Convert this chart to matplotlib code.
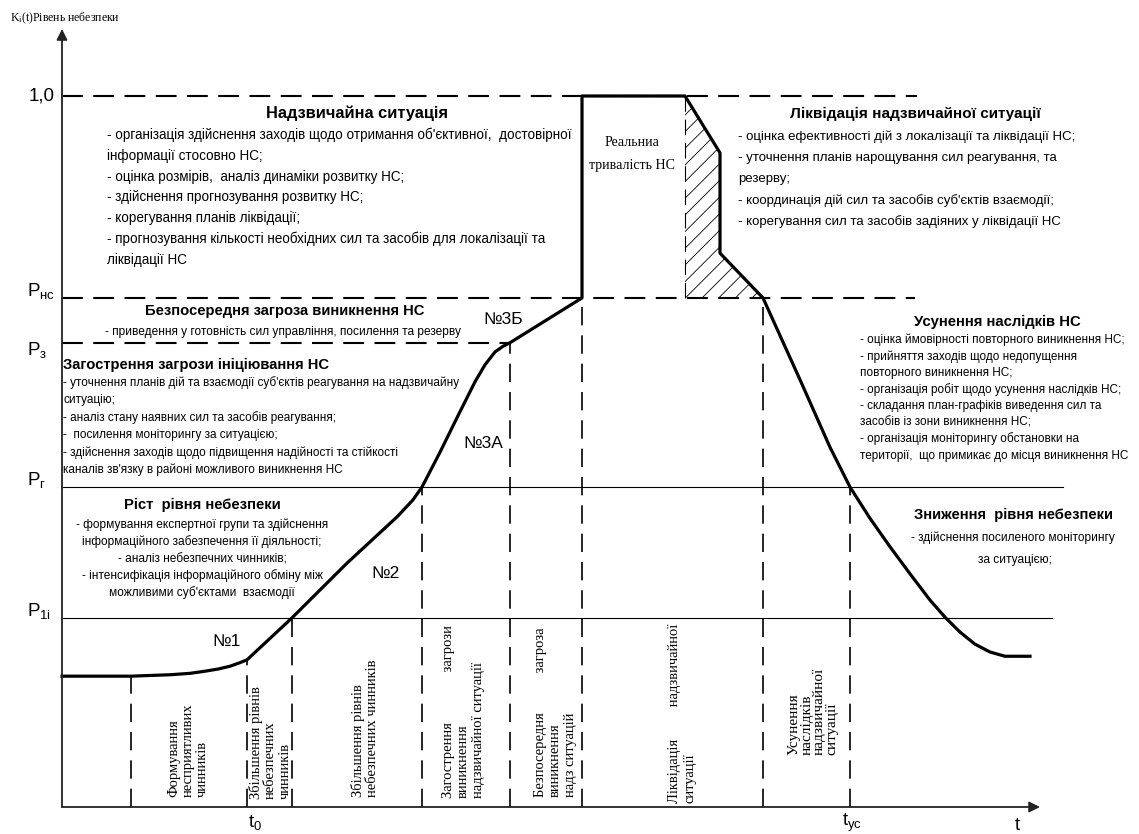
import matplotlib
matplotlib.use("Agg")
import matplotlib.pyplot as plt

W, H = 1139, 834

# danger level curve K(t): time in arbitrary units, level as a share of 1,0
t_curve = [0.00, 0.69, 0.88, 1.08, 1.28, 1.43, 1.56, 1.68, 1.78, 1.85,
           2.30, 2.85, 3.35, 3.51, 3.60, 3.78, 3.98, 4.13, 4.23, 4.33,
           4.41, 4.48, 5.20, 5.20, 6.23, 6.58, 6.58, 7.01, 7.38, 7.68,
           7.88, 8.08, 8.28, 8.48, 8.68, 8.83, 8.98, 9.13, 9.28, 9.43, 9.68]
k_curve = [0.184, 0.184, 0.185, 0.186, 0.188, 0.191, 0.194, 0.198, 0.203,
           0.207, 0.266, 0.343, 0.408, 0.432, 0.450, 0.499, 0.556, 0.598,
           0.622, 0.640, 0.648, 0.653, 0.716, 1.000, 1.000, 0.920, 0.779,
           0.716, 0.601, 0.506, 0.450, 0.406, 0.366, 0.328, 0.291, 0.267,
           0.246, 0.229, 0.218, 0.212, 0.212]

# threshold levels
P_1i = 0.266
P_r = 0.450
P_3 = 0.653
P_hc = 0.716
K_max = 1.0

# stage boundaries (dashed verticals) and the level where each one starts
stage_t = [0.69, 1.85, 2.30, 3.60, 4.48, 5.20, 7.01, 7.88]
stage_top = [0.184, 0.207, 0.266, 0.450, 0.653, 0.716, 0.716, 0.450]

# hatched part of the real duration of the emergency
hatch_t = [6.23, 6.58, 6.58, 7.01, 6.23]
hatch_k = [1.000, 0.920, 0.779, 0.716, 0.716]


def px(x, y):
    # picture pixel -> data units
    return (x - 62) / 100.0, (807 - y) / 711.0


SANS = ["Liberation Sans", "DejaVu Sans"]
SERIF = ["Liberation Serif", "DejaVu Serif"]

plt.rcParams["hatch.linewidth"] = 0.6

fig = plt.figure(figsize=(W / 100, H / 100), dpi=100)
ax = fig.add_axes([0, 0, 1, 1])
x0, y0 = px(0, H)
x1, y1 = px(W, 0)
ax.set_xlim(x0, x1)
ax.set_ylim(y0, y1)
ax.axis("off")

# axes with arrows
ax.annotate("", xy=px(62, 29), xytext=px(62, 807),
            arrowprops=dict(arrowstyle="-|>", lw=1.3, color="#222222",
                            mutation_scale=16, shrinkA=0, shrinkB=0))
ax.annotate("", xy=px(1040, 807), xytext=px(62, 807),
            arrowprops=dict(arrowstyle="-|>", lw=1.3, color="#222222",
                            mutation_scale=16, shrinkA=0, shrinkB=0))

# level lines
dash_kw = dict(color="black", lw=1.5, dashes=(10, 5))
ax.plot([0, px(917, 0)[0]], [K_max, K_max], **dash_kw)
ax.plot([0, px(915, 0)[0]], [P_hc, P_hc], **dash_kw)
ax.plot([0, 4.48], [P_3, P_3], **dash_kw)
ax.plot([0, px(1063, 0)[0]], [P_r, P_r], color="black", lw=0.8)
ax.plot([0, px(1052, 0)[0]], [P_1i, P_1i], color="black", lw=0.8)

# stage borders
for t, top in zip(stage_t, stage_top):
    ax.plot([t, t], [0, top], color="black", lw=1.2, dashes=(11, 6))
ax.plot([6.23, 6.23], [P_hc, K_max], color="black", lw=0.8, dashes=(14, 7))

ax.fill(hatch_t, hatch_k, facecolor="none", edgecolor="black", lw=0,
        hatch="//")

ax.plot(t_curve, k_curve, color="black", lw=2.3, solid_joinstyle="round")


def txt(x, y, s, size=10, ha="left", va="center", bold=False, family=SANS,
        **kw):
    ax.text(*px(x, y), s, fontsize=size, ha=ha, va=va, family=family,
            fontweight="bold" if bold else "normal", **kw)


# axis labels
txt(10, 18, r"$\mathregular{K_i}$(t)Рівень небезпеки", size=8.5, family=SERIF)
txt(55, 96, "1,0", size=13.5, ha="right")
txt(27, 291, r"$\mathregular{P_{нс}}$", size=13.5)
txt(27, 350, r"$\mathregular{P_{з}}$", size=13.5)
txt(27, 480, r"$\mathregular{P_{г}}$", size=13.5)
txt(27, 611, r"$\mathregular{P_{1i}}$", size=13.5)
txt(255, 823, r"$\mathregular{t_0}$", size=13.5, ha="center")
txt(852, 823, r"$\mathregular{t_{ус}}$", size=13.5, ha="center")
txt(1017, 825, "t", size=13.5, ha="center")

txt(227, 642, "№1", size=12.5, ha="center")
txt(385, 574, "№2", size=12.5, ha="center")
txt(483, 443, "№3А", size=12.5, ha="center")
txt(503, 320, "№3Б", size=12.5, ha="center")

txt(632, 142, "Реальниа", size=10, ha="center", family=SERIF)
txt(632, 166, "тривалість НС", size=10, ha="center", family=SERIF)

# text blocks
txt(357, 113, "Надзвичайна ситуація", size=11.8, ha="center", bold=True)
lines = ["- організація здійснення заходів щодо отримання об'єктивної,  достовірної",
         "інформації стосовно НС;",
         "- оцінка розмірів,  аналіз динаміки розвитку НС;",
         "- здійснення прогнозування розвитку НС;",
         "- корегування планів ліквідації;",
         "- прогнозування кількості необхідних сил та засобів для локалізації та",
         "ліквідації НС"]
for i, s in enumerate(lines):
    txt(107, 135 + 20.8 * i, s, size=9.75)

txt(915, 114, "Ліквідація надзвичайної ситуації", size=11, ha="center",
    bold=True)
lines = ["- оцінка ефективності дій з локалізації та ліквідації НС;",
         "- уточнення планів нарощування сил реагування, та",
         "резерву;",
         "- координація дій сил та засобів суб'єктів взаємодії;",
         "- корегування сил та засобів задіяних у ліквідації НС"]
for i, s in enumerate(lines):
    txt(738, 137 + 21.2 * i, s, size=9.5)

txt(285, 311, "Безпосередня загроза виникнення НС", size=10.6, ha="center",
    bold=True)
txt(283, 332, "- приведення у готовність сил управління, посилення та резерву",
    size=8.6, ha="center")

txt(63, 365, "Загострення загрози ініціювання НС", size=10.6, bold=True)
lines = ["- уточнення планів дій та взаємодії суб'єктів реагування на надзвичайну",
         "ситуацію;",
         "- аналіз стану наявних сил та засобів реагування;",
         "-  посилення моніторингу за ситуацією;",
         "- здійснення заходів щодо підвищення надійності та стійкості",
         "каналів зв'язку в районі можливого виникнення НС"]
for i, s in enumerate(lines):
    txt(63, 383 + 17.4 * i, s, size=8.5)

txt(202, 505, "Ріст  рівня небезпеки", size=10.7, ha="center", bold=True)
lines = ["- формування експертної групи та здійснення",
         "інформаційного забезпечення її діяльності;",
         "- аналіз небезпечних чинників;",
         "- інтенсифікація інформаційного обміну між",
         "можливими суб'єктами  взаємодії"]
for i, s in enumerate(lines):
    txt(202, 525 + 17 * i, s, size=8.6, ha="center")

txt(997, 322, "Усунення наслідків НС", size=10.7, ha="center", bold=True)
lines = ["- оцінка ймовірності повторного виникнення НС;",
         "- прийняття заходів щодо недопущення",
         "повторного виникнення НС;",
         "- організація робіт щодо усунення наслідків НС;",
         "- складання план-графіків виведення сил та",
         "засобів із зони виникнення НС;",
         "- організація моніторингу обстановки на",
         "території,  що примикає до місця виникнення НС"]
for i, s in enumerate(lines):
    txt(860, 340 + 16.5 * i, s, size=8.5)

txt(1013, 515, "Зниження  рівня небезпеки", size=10.6, ha="center", bold=True)
txt(1013, 538, "- здійснення посиленого моніторингу", size=8.6, ha="center")
txt(1015, 560, "за ситуацією;", size=8.6, ha="center")

# stage names along the time axis
stages = [(188, 797, "Формування\nнесприятливих\nчинників", 1.15, 10.5),
          (270, 799, "Збільшення рівнів\nнебезпечних\nчинників", 1.15, 10.5),
          (365, 797, "Збільшення рівнів\nнебезпечних чинників", 1.05, 10.5),
          (463, 798, "Загострення              загрози\nвиникнення\nнадзвичайної ситуації", 1.2, 10.5),
          (555, 797, "Безпосередня           загроза\nвиникнення\nнадз ситуацій", 1.2, 10.5),
          (682, 803, "Ліквідація         надзвичайної\nситуації", 1.3, 10.5),
          (813, 755, "Усунення\nнаслідків\nнадзвичайної\nситуації", 0.95, 11)]
for x, y, s, ls, size in stages:
    txt(x, y, s, size=size, ha="center", va="bottom", family=SERIF,
        rotation=90, multialignment="left", linespacing=ls)

plt.savefig("out.png", dpi=100)
